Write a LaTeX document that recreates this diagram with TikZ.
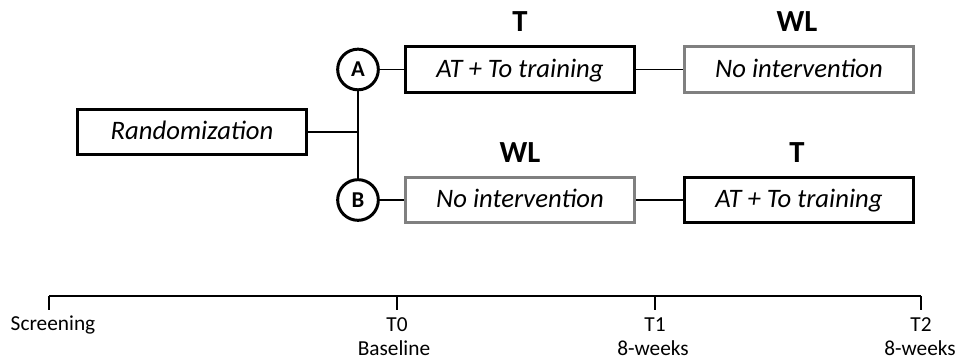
\documentclass[tikz,border=0pt]{standalone}
\usepackage{fontspec}
\setmainfont{Carlito}
\usepackage{xcolor}
\definecolor{waitgrey}{HTML}{808080}
\usetikzlibrary{positioning}

\begin{document}
\begin{tikzpicture}[x=0.75pt, y=-0.75pt,
  armbox/.style={rectangle, draw=black, line width=2.25pt, minimum width=172pt, minimum height=34pt, inner sep=0pt, text height=14pt, text depth=2.5pt, font=\fontsize{20}{24}\selectfont\itshape},
  waitbox/.style={armbox, draw=waitgrey},
  group/.style={circle, draw=black, line width=2.25pt, minimum size=30.5pt, inner sep=0pt, font=\fontsize{17}{20}\selectfont\bfseries},
  phase/.style={font=\fontsize{23}{28}\selectfont\bfseries},
  timelabel/.style={font=\fontsize{16}{19}\selectfont, inner sep=0pt},
  link/.style={line width=0.9pt},
]

\useasboundingbox (0,0) rectangle (960,359);

\node[armbox] (rand) at (192,132) {Randomization};
\node[group] (a) at (358,69.5) {A};
\node[group] (b) at (358,200) {B};

\node[armbox] (trainA) at (520,69.5) {AT + To training};
\node[waitbox, right=35pt of trainA] (waitA) {No intervention};
\node[waitbox] (waitB) at (520,200) {No intervention};
\node[armbox, right=35pt of waitB] (trainB) {AT + To training};

\node[phase] (ta) at (520,22) {T};
\node[phase] (wa) at (797,22) {WL};
\node[phase] (wb) at (520,153) {WL};
\node[phase] (tb) at (797,153) {T};

\draw[link] (a) -- (b);
\draw[link] (rand) -- (rand -| a);
\draw[link] (a) -- (trainA);
\draw[link] (trainA) -- (waitA);
\draw[link] (b) -- (waitB);
\draw[link] (waitB) -- (trainB);

% timeline
\draw[link] (49,296) -- (921,296);
\foreach \x in {49,397,655,921}
  \draw[link] (\x,296) -- (\x,310);

\node[timelabel] (scr) at (53,325) {Screening};
\node[timelabel] (t0) at (397,325) {T0};
\node[timelabel] (base) at (394,348) {Baseline};
\node[timelabel] (t1) at (655,325) {T1};
\node[timelabel] (wk1) at (653,348) {8-weeks};
\node[timelabel] (t2) at (921,325) {T2};
\node[timelabel] (wk2) at (920,348) {8-weeks};

\end{tikzpicture}
\end{document}
